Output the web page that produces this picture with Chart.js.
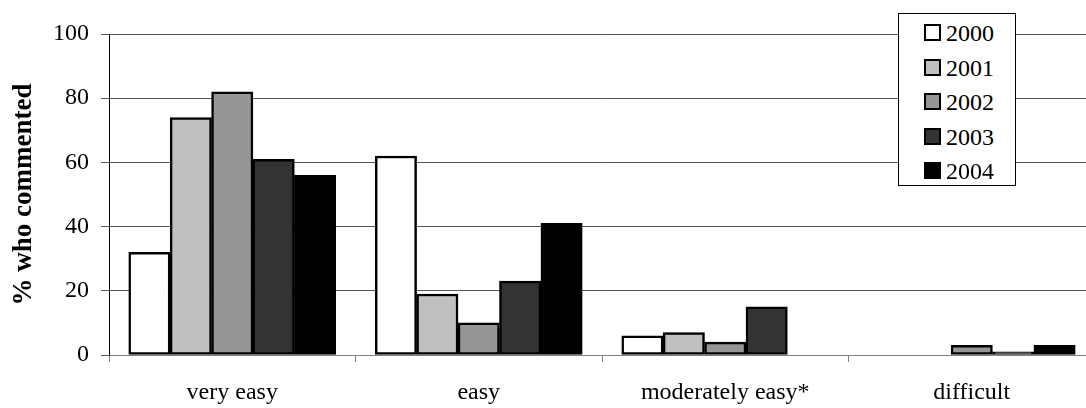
<!DOCTYPE html>
<html>
<head>
<meta charset="utf-8">
<script src="https://cdn.jsdelivr.net/npm/chart.js@4/dist/chart.umd.min.js"></script>
<style>
html,body{margin:0;padding:0;overflow:hidden;background:#fff;width:1086px;height:408px}
#wrap{position:relative;width:1100px;height:408px}
#c{position:absolute;left:0;top:0}
#legend{position:absolute;left:898px;top:13px;width:118px;height:173px;box-sizing:border-box;border:1px solid #000;background:#fff;font-family:'Liberation Serif',serif;font-size:24px;color:#000}
.row{position:absolute;left:0;height:34px;width:116px}
.sw{position:absolute;left:25px;top:8px;width:17px;height:17px;box-sizing:border-box;border:2px solid #000}
.lb{position:absolute;left:47px;top:0;line-height:34px}
</style>
</head>
<body>
<div id="wrap">
<canvas id="c" width="1100" height="408"></canvas>
<div id="legend"></div>
</div>
<script>
const categories = ['very easy', 'easy', 'moderately easy*', 'difficult'];
const years = ['2000', '2001', '2002', '2003', '2004'];
const values2000 = [32, 62, 6, 0];
const values2001 = [74, 19, 7, 0];
const values2002 = [82, 10, 4, 3];
const values2003 = [61, 23, 15, 1];
const values2004 = [56, 41, 0, 3];
const yTicks = [0, 20, 40, 60, 80, 100];
const seriesValues = [values2000, values2001, values2002, values2003, values2004];
const fills = ['#FFFFFF', '#C0C0C0', '#969696', '#333333', '#000000'];

const FONT = "'Liberation Serif', serif";

const datasets = years.map((y, i) => ({
  label: y,
  data: seriesValues[i],
  backgroundColor: fills[i],
  borderColor: '#000000',
  borderWidth: 2.5,
  borderSkipped: false,
  inflateAmount: 0.3,
  categoryPercentage: 0.84,
  barPercentage: 1.0
}));

new Chart(document.getElementById('c'), {
  type: 'bar',
  data: { labels: categories, datasets },
  options: {
    responsive: false,
    devicePixelRatio: 1,
    animation: false,
    layout: { padding: { top: 34, right: 5, left: 0, bottom: 0 } },
    plugins: { legend: { display: false }, tooltip: { enabled: false } },
    scales: {
      x: {
        offset: true,
        grid: { drawOnChartArea: false, drawTicks: true, tickLength: 7, color: '#808080', offset: true },
        border: { color: '#808080', width: 1 },
        ticks: { color: '#000', font: { family: FONT, size: 24 }, padding: 16, maxRotation: 0, autoSkip: false },
        afterFit: s => { s.height = 53; }
      },
      y: {
        min: 0, max: 100,
        afterBuildTicks: s => { s.ticks = yTicks.map(v => ({ value: v })); },
        grid: { color: '#555555', lineWidth: 1, tickLength: 8 },
        border: { color: '#000000', width: 1 },
        ticks: { color: '#000', font: { family: FONT, size: 24 }, padding: 12 },
        title: { display: true, text: '% who commented', color: '#000', font: { family: FONT, size: 27, weight: 'bold' }, padding: { top: 8, bottom: 0 } },
        afterFit: s => { s.width = 109; }
      }
    }
  }
});

const leg = document.getElementById('legend');
years.forEach((y, i) => {
  const r = document.createElement('div');
  r.className = 'row';
  r.style.top = (2 + i * 34.5) + 'px';
  const sw = document.createElement('div');
  sw.className = 'sw';
  sw.style.background = fills[i];
  const lb = document.createElement('div');
  lb.className = 'lb';
  lb.textContent = y;
  r.appendChild(sw); r.appendChild(lb);
  leg.appendChild(r);
});
</script>
</body>
</html>
